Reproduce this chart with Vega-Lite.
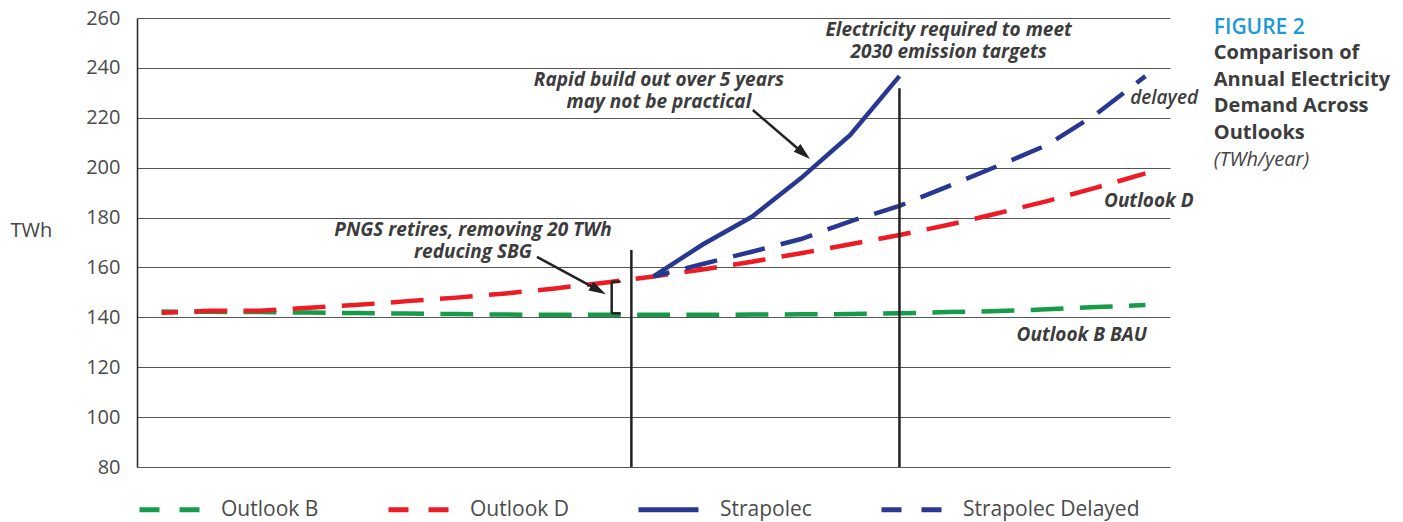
{
  "$schema": "https://vega.github.io/schema/vega-lite/v6.json",
  "width": 1033,
  "height": 449,
  "autosize": {"type": "none"},
  "padding": {"left": 137, "top": 18, "right": 233, "bottom": 55},
  "background": "white",
  "config": {"view": {"stroke": null}, "font": "Open Sans"},
  "datasets": {
    "demand": [
      {"year": 2015, "series": "Outlook B", "value": 142.3},
      {"year": 2016, "series": "Outlook B", "value": 142.2},
      {"year": 2017, "series": "Outlook B", "value": 142.1},
      {"year": 2018, "series": "Outlook B", "value": 141.9},
      {"year": 2019, "series": "Outlook B", "value": 141.7},
      {"year": 2020, "series": "Outlook B", "value": 141.5},
      {"year": 2021, "series": "Outlook B", "value": 141.3},
      {"year": 2022, "series": "Outlook B", "value": 141.1},
      {"year": 2023, "series": "Outlook B", "value": 141.0},
      {"year": 2024, "series": "Outlook B", "value": 141.0},
      {"year": 2025, "series": "Outlook B", "value": 141.0},
      {"year": 2026, "series": "Outlook B", "value": 141.0},
      {"year": 2027, "series": "Outlook B", "value": 141.1},
      {"year": 2028, "series": "Outlook B", "value": 141.2},
      {"year": 2029, "series": "Outlook B", "value": 141.3},
      {"year": 2030, "series": "Outlook B", "value": 141.6},
      {"year": 2031, "series": "Outlook B", "value": 142.1},
      {"year": 2032, "series": "Outlook B", "value": 142.5},
      {"year": 2033, "series": "Outlook B", "value": 143.2},
      {"year": 2034, "series": "Outlook B", "value": 144.1},
      {"year": 2035, "series": "Outlook B", "value": 144.9},
      {"year": 2015, "series": "Outlook D", "value": 141.8},
      {"year": 2016, "series": "Outlook D", "value": 142.6},
      {"year": 2017, "series": "Outlook D", "value": 142.6},
      {"year": 2018, "series": "Outlook D", "value": 143.8},
      {"year": 2019, "series": "Outlook D", "value": 145.0},
      {"year": 2020, "series": "Outlook D", "value": 146.5},
      {"year": 2021, "series": "Outlook D", "value": 147.9},
      {"year": 2022, "series": "Outlook D", "value": 149.6},
      {"year": 2023, "series": "Outlook D", "value": 151.6},
      {"year": 2024, "series": "Outlook D", "value": 153.9},
      {"year": 2025, "series": "Outlook D", "value": 156.4},
      {"year": 2026, "series": "Outlook D", "value": 159.2},
      {"year": 2027, "series": "Outlook D", "value": 162.3},
      {"year": 2028, "series": "Outlook D", "value": 165.7},
      {"year": 2029, "series": "Outlook D", "value": 169.3},
      {"year": 2030, "series": "Outlook D", "value": 173.0},
      {"year": 2031, "series": "Outlook D", "value": 177.1},
      {"year": 2032, "series": "Outlook D", "value": 181.7},
      {"year": 2033, "series": "Outlook D", "value": 186.6},
      {"year": 2034, "series": "Outlook D", "value": 192.0},
      {"year": 2035, "series": "Outlook D", "value": 197.7},
      {"year": 2025, "series": "Strapolec Delayed", "value": 156.4},
      {"year": 2026, "series": "Strapolec Delayed", "value": 161.4},
      {"year": 2027, "series": "Strapolec Delayed", "value": 166.3},
      {"year": 2028, "series": "Strapolec Delayed", "value": 171.4},
      {"year": 2029, "series": "Strapolec Delayed", "value": 178.5},
      {"year": 2030, "series": "Strapolec Delayed", "value": 184.7},
      {"year": 2031, "series": "Strapolec Delayed", "value": 192.6},
      {"year": 2032, "series": "Strapolec Delayed", "value": 200.7},
      {"year": 2033, "series": "Strapolec Delayed", "value": 209.1},
      {"year": 2034, "series": "Strapolec Delayed", "value": 221.5},
      {"year": 2035, "series": "Strapolec Delayed", "value": 236.7},
      {"year": 2025, "series": "Strapolec", "value": 156.4},
      {"year": 2026, "series": "Strapolec", "value": 169.2},
      {"year": 2027, "series": "Strapolec", "value": 180.3},
      {"year": 2028, "series": "Strapolec", "value": 195.8},
      {"year": 2029, "series": "Strapolec", "value": 213.1},
      {"year": 2030, "series": "Strapolec", "value": 236.7}
    ]
  },
  "layer": [
    {
      "data": {"name": "demand"},
      "transform": [{"filter": "false"}],
      "mark": {"type": "line", "strokeWidth": 5},
      "encoding": {
        "x": {"field": "year", "type": "quantitative", "scale": {"domain": [2014.5, 2035.5], "nice": false, "zero": false}, "axis": null},
        "y": {
          "field": "value", "type": "quantitative",
          "scale": {"domain": [80, 260], "nice": false, "zero": false},
          "axis": {
            "values": [80, 100, 120, 140, 160, 180, 200, 220, 240, 260],
            "title": "TWh", "titleAngle": 0, "titleAlign": "left", "titleBaseline": "middle",
            "titleX": -127, "titleY": 212, "titleFontSize": 20, "titleFontWeight": "normal", "titleColor": "#444444",
            "labelFontSize": 20, "labelColor": "#4a4a4a", "labelPadding": 17,
            "ticks": false, "domain": true, "domainColor": "#222222", "domainWidth": 1.5,
            "grid": true, "gridColor": "#555555", "gridWidth": 1, "gridOpacity": 1
          }
        },
        "color": {
          "field": "series", "type": "nominal",
          "scale": {"domain": ["Outlook B", "Outlook D", "Strapolec", "Strapolec Delayed"], "range": ["#169c49", "#ed1c24", "#283891", "#283891"]},
          "legend": {
            "title": null, "orient": "bottom", "direction": "horizontal", "columns": 4,
            "offset": 10, "padding": 0, "columnPadding": 59,
            "symbolType": "stroke", "symbolSize": 3600, "symbolStrokeWidth": 5,
            "labelFontSize": 21, "labelColor": "#4a4a4a", "labelOffset": 19, "labelLimit": 400
          }
        },
        "strokeDash": {
          "field": "series", "type": "nominal",
          "scale": {"domain": ["Outlook B", "Outlook D", "Strapolec", "Strapolec Delayed"], "range": [[20, 20], [20, 20], [1, 0], [20, 20]]},
          "legend": {
            "title": null, "orient": "bottom", "direction": "horizontal", "columns": 4,
            "offset": 10, "padding": 0, "columnPadding": 59,
            "symbolType": "stroke", "symbolSize": 3600, "symbolStrokeWidth": 5,
            "labelFontSize": 21, "labelColor": "#4a4a4a", "labelOffset": 19, "labelLimit": 400
          }
        }
      }
    },
    {
      "data": {"name": "demand"},
      "transform": [{"filter": "datum.series !== 'Strapolec'"}],
      "mark": {"type": "line", "strokeWidth": 4.5, "strokeDash": [32.8, 16.4], "strokeDashOffset": 16.4, "clip": false},
      "encoding": {
        "x": {"field": "year", "type": "quantitative"},
        "y": {"field": "value", "type": "quantitative"},
        "stroke": {
          "field": "series", "type": "nominal", "legend": null,
          "scale": {"domain": ["Outlook B", "Outlook D", "Strapolec", "Strapolec Delayed"], "range": ["#169c49", "#ed1c24", "#283891", "#283891"]}
        }
      }
    },
    {
      "data": {"name": "demand"},
      "transform": [{"filter": "datum.series === 'Strapolec'"}],
      "mark": {"type": "line", "strokeWidth": 4.5, "clip": false},
      "encoding": {
        "x": {"field": "year", "type": "quantitative"},
        "y": {"field": "value", "type": "quantitative"},
        "stroke": {"field": "series", "type": "nominal", "legend": null}
      }
    },
    {
      "data": {"values": [
        {"x": 2024.55, "x2": 2024.55, "y": 80, "y2": 167},
        {"x": 2030, "x2": 2030, "y": 80, "y2": 231.8},
        {"x": 2024.15, "x2": 2024.15, "y": 141.6, "y2": 154.3},
        {"x": 2024.15, "x2": 2024.33, "y": 154.3, "y2": 154.3},
        {"x": 2024.15, "x2": 2024.33, "y": 141.6, "y2": 141.6},
        {"x": 2027.02, "x2": 2028.05, "y": 223.1, "y2": 205.7},
        {"x": 2022.63, "x2": 2023.88, "y": 164.2, "y2": 150.9}
      ]},
      "mark": {"type": "rule", "color": "#222222", "strokeWidth": 2.5, "clip": false},
      "encoding": {
        "x": {"field": "x", "type": "quantitative"},
        "x2": {"field": "x2"},
        "y": {"field": "y", "type": "quantitative"},
        "y2": {"field": "y2"}
      }
    },
    {
      "data": {"values": [{"x": 2028.05, "y": 205.7}]},
      "mark": {"type": "point", "shape": "M0,-1L0.6,1L-0.6,1Z", "filled": true, "color": "#222222", "opacity": 1, "size": 289, "angle": 130.7},
      "encoding": {"x": {"field": "x", "type": "quantitative"}, "y": {"field": "y", "type": "quantitative"}}
    },
    {
      "data": {"values": [{"x": 2023.88, "y": 150.9}]},
      "mark": {"type": "point", "shape": "M0,-1L0.6,1L-0.6,1Z", "filled": true, "color": "#222222", "opacity": 1, "size": 289, "angle": 118.2},
      "encoding": {"x": {"field": "x", "type": "quantitative"}, "y": {"field": "y", "type": "quantitative"}}
    },
    {
      "data": {"values": [
        {"label": "Electricity required to meet", "x": 2031.0, "y": 255.2},
        {"label": "2030 emission targets", "x": 2031.0, "y": 246.4},
        {"label": "Rapid build out over 5 years", "x": 2025.11, "y": 235.1},
        {"label": "may not be practical", "x": 2025.11, "y": 226.3},
        {"label": "PNGS retires, removing 20 TWh", "x": 2021.33, "y": 175.0},
        {"label": "reducing SBG", "x": 2021.33, "y": 166.2}
      ]},
      "mark": {"type": "text", "align": "center", "baseline": "middle", "fontSize": 19, "fontWeight": "bold", "fontStyle": "italic", "color": "#3c3c3c", "clip": false},
      "encoding": {"x": {"field": "x", "type": "quantitative"}, "y": {"field": "y", "type": "quantitative"}, "text": {"field": "label"}}
    },
    {
      "data": {"values": [
        {"label": "Outlook D", "x": 2035.98, "y": 186.6},
        {"label": "Outlook B BAU", "x": 2035.03, "y": 132.9}
      ]},
      "mark": {"type": "text", "align": "right", "baseline": "middle", "fontSize": 19, "fontWeight": "bold", "fontStyle": "italic", "color": "#3c3c3c", "clip": false},
      "encoding": {"x": {"field": "x", "type": "quantitative"}, "y": {"field": "y", "type": "quantitative"}, "text": {"field": "label"}}
    },
    {
      "data": {"values": [{"label": "delayed", "x": 2036.07, "y": 227.9}]},
      "mark": {"type": "text", "align": "right", "baseline": "middle", "fontSize": 19, "fontWeight": 600, "fontStyle": "italic", "color": "#3c3c3c", "clip": false},
      "encoding": {"x": {"field": "x", "type": "quantitative"}, "y": {"field": "y", "type": "quantitative"}, "text": {"field": "label"}}
    },
    {
      "data": {"values": [{"label": "FIGURE 2", "x": 2036.39, "y": 256.0}]},
      "mark": {"type": "text", "align": "left", "baseline": "middle", "fontSize": 21, "fontWeight": 600, "color": "#1e9ad6", "clip": false},
      "encoding": {"x": {"field": "x", "type": "quantitative"}, "y": {"field": "y", "type": "quantitative"}, "text": {"field": "label"}}
    },
    {
      "data": {"values": [
        {"label": "Comparison of", "x": 2036.39, "y": 246.0},
        {"label": "Annual Electricity", "x": 2036.39, "y": 235.1},
        {"label": "Demand Across", "x": 2036.39, "y": 224.7},
        {"label": "Outlooks", "x": 2036.39, "y": 213.9}
      ]},
      "mark": {"type": "text", "align": "left", "baseline": "middle", "fontSize": 20, "fontWeight": "bold", "color": "#3c3c3c", "clip": false},
      "encoding": {"x": {"field": "x", "type": "quantitative"}, "y": {"field": "y", "type": "quantitative"}, "text": {"field": "label"}}
    },
    {
      "data": {"values": [{"label": "(TWh/year)", "x": 2036.39, "y": 203.1}]},
      "mark": {"type": "text", "align": "left", "baseline": "middle", "fontSize": 20, "fontStyle": "italic", "color": "#444444", "clip": false},
      "encoding": {"x": {"field": "x", "type": "quantitative"}, "y": {"field": "y", "type": "quantitative"}, "text": {"field": "label"}}
    }
  ]
}
